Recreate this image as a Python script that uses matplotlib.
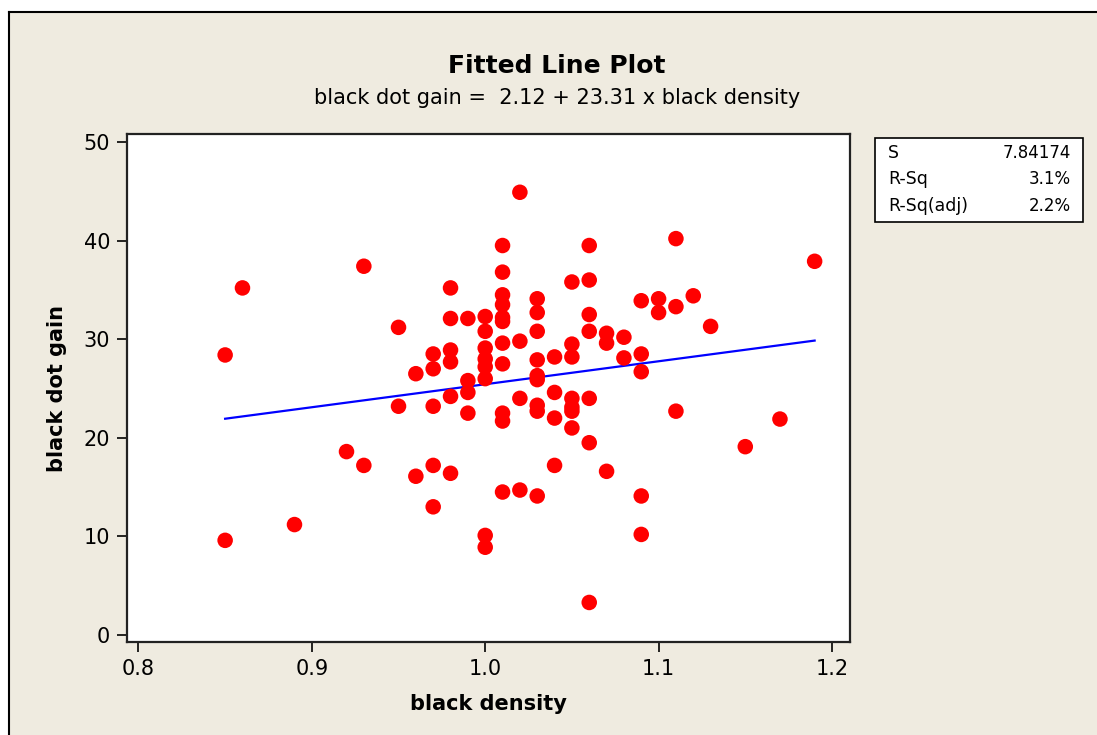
import matplotlib
matplotlib.use("Agg")
import matplotlib.pyplot as plt
import numpy as np
from matplotlib.patches import Rectangle
from matplotlib.lines import Line2D

# black density -> black dot gain readings, grouped by density value
density_levels = [0.85, 0.86, 0.89, 0.92, 0.93, 0.95, 0.96, 0.97, 0.98, 0.99,
                  1.00, 1.01, 1.02, 1.03, 1.04, 1.05, 1.06, 1.07, 1.08, 1.09,
                  1.10, 1.11, 1.12, 1.13, 1.15, 1.17, 1.19]
dot_gain = [
    [28.4, 9.6],
    [35.2],
    [11.2],
    [18.6],
    [37.4, 17.2],
    [31.2, 23.2],
    [26.5, 16.1],
    [28.5, 27.0, 23.2, 17.2, 13.0],
    [35.2, 32.1, 28.9, 27.7, 24.2, 16.4],
    [32.1, 25.8, 24.6, 22.5],
    [32.3, 30.8, 29.1, 28.0, 27.2, 26.0, 10.1, 8.9],
    [39.5, 36.8, 34.5, 33.5, 32.2, 31.8, 29.6, 27.5, 22.5, 21.7, 14.5],
    [44.9, 29.8, 24.0, 14.7],
    [34.1, 32.7, 30.8, 27.9, 26.3, 25.9, 23.3, 22.7, 14.1],
    [28.2, 24.6, 22.0, 17.2],
    [35.8, 29.5, 28.2, 24.0, 23.1, 22.7, 21.0],
    [39.5, 36.0, 32.5, 30.8, 24.0, 19.5, 3.3],
    [30.6, 29.6, 16.6],
    [30.2, 28.1],
    [33.9, 28.5, 26.7, 14.1, 10.2],
    [34.1, 32.7],
    [40.2, 33.3, 22.7],
    [34.4],
    [31.3],
    [19.1],
    [21.9],
    [37.9],
]

intercept = 2.12
slope = 23.31
stat_names = ["S", "R-Sq", "R-Sq(adj)"]
stat_values = ["7.84174", "3.1%", "2.2%"]

x_ticks = [0.8, 0.9, 1.0, 1.1, 1.2]
y_ticks = [0, 10, 20, 30, 40, 50]

x = np.array([d for d, g in zip(density_levels, dot_gain) for _ in g])
y = np.array([v for g in dot_gain for v in g])

plt.rcParams["font.family"] = ["DejaVu Sans"]
W, H = 1097, 735
fig = plt.figure(figsize=(W / 100, H / 100), dpi=100, facecolor="white")

# beige panel with its top/left frame lines
beige = "#efebe0"
fig.patches.append(Rectangle((9 / W, 0), 1, 1 - 12 / H, transform=fig.transFigure,
                             facecolor=beige, edgecolor="none", zorder=-10))
fig.lines.append(Line2D([9 / W, 1], [1 - 12 / H, 1 - 12 / H], transform=fig.transFigure,
                        color="black", linewidth=1.5))
fig.lines.append(Line2D([9 / W, 9 / W], [0, 1 - 12 / H], transform=fig.transFigure,
                        color="black", linewidth=1.5))

ax = fig.add_axes([127 / W, 1 - 642 / H, (850 - 127) / W, (642 - 134) / H])
ax.set_facecolor("white")
ax.scatter(x, y, s=125, color="#ff0000", edgecolors="none", zorder=3)

xf = np.linspace(x.min(), x.max(), 50)
ax.plot(xf, intercept + slope * xf, color="#0000ff", linewidth=1.6, zorder=2)

ax.set_xlim(0.7934, 1.2104)
ax.set_ylim(-0.71, 50.81)
ax.set_xticks(x_ticks)
ax.set_xticklabels([f"{t:.1f}" for t in x_ticks])
ax.set_yticks(y_ticks)
ax.tick_params(direction="out", length=7, width=1.2, labelsize=15, colors="black", pad=5)
for sp in ax.spines.values():
    sp.set_linewidth(1.6)
    sp.set_color("#222222")

ax.set_xlabel("black density", fontsize=15, fontweight="bold", labelpad=11)
ax.set_ylabel("black dot gain", fontsize=15, fontweight="bold", labelpad=12)

fig.text(557 / W, 1 - 66 / H, "Fitted Line Plot", ha="center", va="center",
         fontsize=18, fontweight="bold")
fig.text(557 / W, 1 - 98 / H, "black dot gain =  2.12 + 23.31 x black density",
         ha="center", va="center", fontsize=15)

# summary statistics box
fig.patches.append(Rectangle((875 / W, 1 - 222 / H), (1083 - 875) / W, (222 - 138) / H,
                             transform=fig.transFigure, facecolor="white",
                             edgecolor="black", linewidth=1.2))
for i, (name, val) in enumerate(zip(stat_names, stat_values)):
    yy = 1 - (153 + i * 26.5) / H
    fig.text(888 / W, yy, name, ha="left", va="center", fontsize=12.5)
    fig.text(1071 / W, yy, val, ha="right", va="center", fontsize=12)

fig.savefig("out.png", dpi=100, facecolor=fig.get_facecolor())
